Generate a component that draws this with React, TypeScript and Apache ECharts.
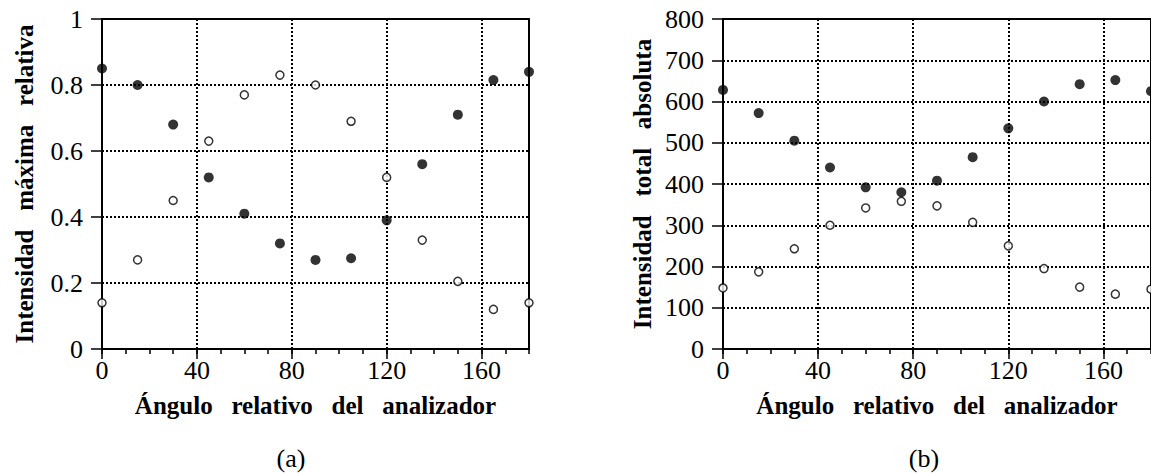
import React, { useEffect, useRef } from "react";
import * as echarts from "echarts";

const angles = [0, 15, 30, 45, 60, 75, 90, 105, 120, 135, 150, 165, 180];
const maxRelFilled = [0.85, 0.8, 0.68, 0.52, 0.41, 0.32, 0.27, 0.275, 0.39, 0.56, 0.71, 0.815, 0.84];
const maxRelOpen = [0.14, 0.27, 0.45, 0.63, 0.77, 0.83, 0.8, 0.69, 0.52, 0.33, 0.205, 0.12, 0.14];
const totalFilled = [628, 572, 505, 440, 392, 380, 408, 465, 535, 600, 642, 652, 625];
const totalOpen = [148, 187, 243, 300, 342, 358, 347, 307, 250, 195, 150, 133, 145];

const xTitle = "Ángulo\u00a0\u00a0\u00a0relativo\u00a0\u00a0\u00a0del\u00a0\u00a0\u00a0analizador";
const yTitleA = "Intensidad\u00a0\u00a0\u00a0máxima\u00a0\u00a0\u00a0relativa";
const yTitleB = "Intensidad\u00a0\u00a0\u00a0total\u00a0\u00a0\u00a0absoluta";
const panelLabels = ["(a)", "(b)"];

const FONT = "Liberation Serif";

export default function App() {
  const ref = useRef<HTMLDivElement>(null);
  useEffect(() => {
    if (!ref.current) return;
    const chart = echarts.init(ref.current, undefined, { renderer: "svg" });
    const dotted = { color: "#000", width: 2, type: [2, 2] as any };
    const axisLine = { show: true, lineStyle: { color: "#000", width: 2 } };
    const majorX = (gridIndex: number) => ({
      type: "value",
      gridIndex,
      min: 0,
      max: 180,
      interval: 40,
      position: "bottom",
      axisLine,
      axisTick: { show: true, length: 10, inside: false, lineStyle: { color: "#000", width: 1.5 } },
      axisLabel: {
        show: true,
        margin: 8,
        color: "#000",
        fontFamily: FONT,
        fontSize: 26,
        showMaxLabel: false,
        formatter: (v: number) => (v === 180 ? "" : String(v)),
      },
      splitLine: { show: true, lineStyle: dotted },
      name: xTitle,
      nameLocation: "middle",
      nameGap: 44,
      nameTextStyle: { color: "#000", fontFamily: FONT, fontSize: 25, fontWeight: "bold" },
    });
    const minorX = (gridIndex: number) => ({
      type: "value",
      gridIndex,
      min: 0,
      max: 180,
      interval: 10,
      position: "bottom",
      axisLine: { show: false },
      axisTick: { show: true, length: 5, lineStyle: { color: "#000", width: 1.5 } },
      axisLabel: { show: false },
      splitLine: { show: false },
    });
    const yAxis = (gridIndex: number, max: number, interval: number, name: string, nameGap: number) => ({
      type: "value",
      gridIndex,
      min: 0,
      max,
      interval,
      axisLine,
      axisTick: { show: true, length: 11, lineStyle: { color: "#000", width: 1.5 } },
      axisLabel: { margin: 19, color: "#000", fontFamily: FONT, fontSize: 26 },
      splitLine: { show: true, lineStyle: dotted },
      name,
      nameLocation: "middle",
      nameGap,
      nameTextStyle: { color: "#000", fontFamily: FONT, fontSize: 25, fontWeight: "bold" },
    });
    const filled = { color: "#000" };
    const open = { color: "#fff", borderColor: "#000", borderWidth: 1.5 };
    const mk = (vals: number[]) => angles.map((a, i) => [a, vals[i]]);
    chart.setOption({
      animation: false,
      backgroundColor: "#fff",
      grid: [
        { left: 102, top: 19, width: 427, height: 330, show: true, borderColor: "#000", borderWidth: 2, backgroundColor: "transparent" },
        { left: 723, top: 19, width: 431, height: 330, show: true, borderColor: "#000", borderWidth: 2, backgroundColor: "transparent" },
      ],
      xAxis: [majorX(0), minorX(0), majorX(1), minorX(1)],
      yAxis: [yAxis(0, 1, 0.2, yTitleA, 65), yAxis(1, 800, 100, yTitleB, 68)],
      series: [
        { type: "scatter", xAxisIndex: 0, yAxisIndex: 0, data: mk(maxRelOpen), symbol: "circle", symbolSize: 8, itemStyle: open, clip: false },
        { type: "scatter", xAxisIndex: 0, yAxisIndex: 0, data: mk(maxRelFilled), symbol: "circle", symbolSize: 10, itemStyle: filled, clip: false },
        { type: "scatter", xAxisIndex: 2, yAxisIndex: 1, data: mk(totalOpen), symbol: "circle", symbolSize: 8, itemStyle: open, clip: false },
        { type: "scatter", xAxisIndex: 2, yAxisIndex: 1, data: mk(totalFilled), symbol: "circle", symbolSize: 10, itemStyle: filled, clip: false },
      ],
      graphic: [
        { type: "text", x: 291, y: 458, style: { text: panelLabels[0], font: `26px ${FONT}`, fill: "#000", textAlign: "center", textVerticalAlign: "middle" } },
        { type: "text", x: 924, y: 458, style: { text: panelLabels[1], font: `26px ${FONT}`, fill: "#000", textAlign: "center", textVerticalAlign: "middle" } },
      ],
    });
    return () => chart.dispose();
  }, []);
  return <div ref={ref} style={{ position: "fixed", left: 0, top: 0, width: 1151, height: 473 }} />;
}
